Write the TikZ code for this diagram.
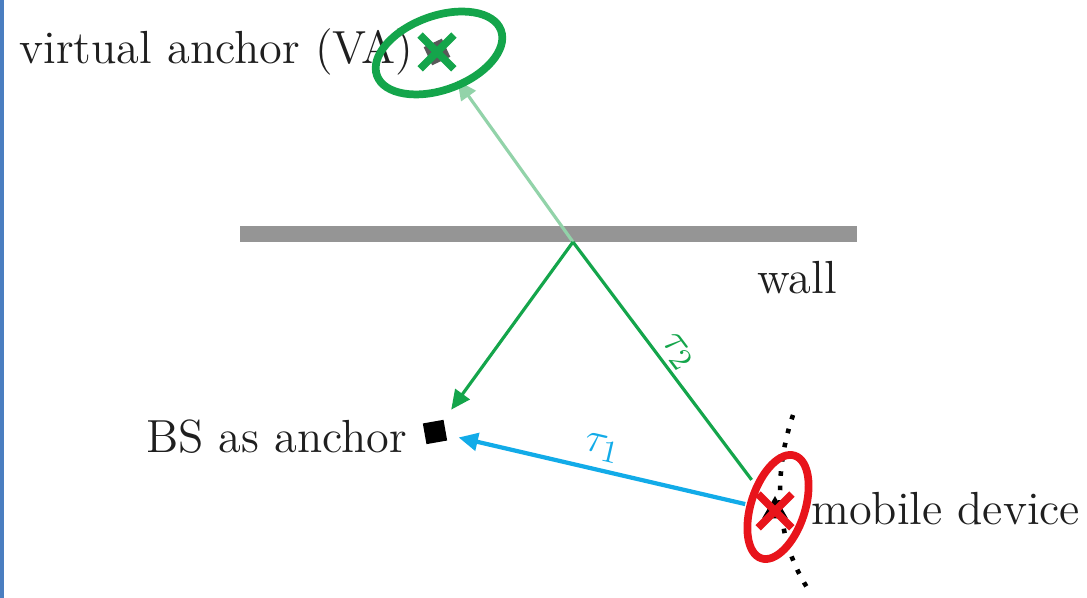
\documentclass[tikz,border=0pt]{standalone}
\usepackage{tikz}
\usetikzlibrary{arrows.meta, positioning, calc, shapes.geometric, shapes.misc}
\definecolor{pathgreen}{HTML}{14A54B}
\definecolor{pathlight}{HTML}{92D3A9}
\definecolor{pathblue}{HTML}{12ABE8}
\definecolor{mdred}{HTML}{E8141B}
\definecolor{wallgray}{HTML}{959595}
\definecolor{frameblue}{HTML}{4A7EC0}

\begin{document}
\begin{tikzpicture}[
    x=0.01cm, y=-0.01cm,
    >={Triangle[length=5.5pt, width=5pt]},
    lbl/.style={inner sep=0pt, font=\fontsize{13.2}{15}\selectfont, text=black!88},
    ray/.style={line width=0.9pt},
    xmark/.style={draw=#1, cross out, line width=2.2pt, minimum size=0.26cm, inner sep=0pt},
]
    \useasboundingbox (0,0) rectangle (1087,598);
    \draw[frameblue, line width=1pt] (2,0) -- (2,598);

    % Wall
    \coordinate (walll) at (240,234);
    \coordinate (wallr) at (857,234);
    \coordinate (refl) at (573,242);
    \draw[wallgray, line width=0.16cm] (walll) -- (wallr);
    \node[lbl] (walllbl) at (797,278) {wall};

    % Anchors and device
    \node[draw=none, fill=black!65, rectangle, rotate=25, minimum size=0.2cm, inner sep=0pt] (va) at (437,52) {};
    \node[fill=black, rectangle, rotate=10, minimum size=0.21cm, inner sep=0pt] (bs) at (435,432) {};
    \node[fill=black, regular polygon, regular polygon sides=3, minimum size=0.3cm, inner sep=0pt] (md) at (775,511) {};

    % Labels
    \node[lbl, left=0.13cm of va, yshift=0.05cm] (valbl) {virtual anchor (VA)};
    \node[lbl, left=0.16cm of bs, yshift=-0.03cm] (bslbl) {BS as anchor};
    \node[lbl, right=0.26cm of md, yshift=0.02cm] (mdlbl) {mobile device};

    % Paths
    \draw[ray, pathlight, ->, shorten >=0.24cm] (refl) -- (va);
    \draw[ray, pathgreen, ->, shorten >=0.12cm] (refl) -- (bs);
    \draw[ray, pathgreen, shorten >=0.3cm] (refl) -- node[sloped, above=-0.08cm, pos=0.46, text=pathgreen, font=\fontsize{13.2}{15}\selectfont] {$\tau_2$} (md);
    \draw[ray, pathblue, line width=1.2pt, ->, shorten <=0.22cm, shorten >=0.12cm] (md) -- node[sloped, above=-0.04cm, pos=0.53, text=pathblue, font=\fontsize{13.2}{15}\selectfont] {$\tau_1$} (bs);

    % Estimates
    \node[xmark=pathgreen] (vax) at (va) {};
    \draw[pathgreen, line width=2.2pt, rotate around={20:(439,53)}] (439,53) ellipse (66 and 37);
    \draw[black, line width=1.3pt, dash pattern=on 1.3pt off 2.8pt] (793,415) .. controls (772,478) and (776,542) .. (810,592);
    \node[xmark=mdred] (mdx) at (md) {};
    \draw[mdred, line width=2.2pt, rotate around={-18:(778,507)}] (778,507) ellipse (27 and 54);
\end{tikzpicture}
\end{document}
